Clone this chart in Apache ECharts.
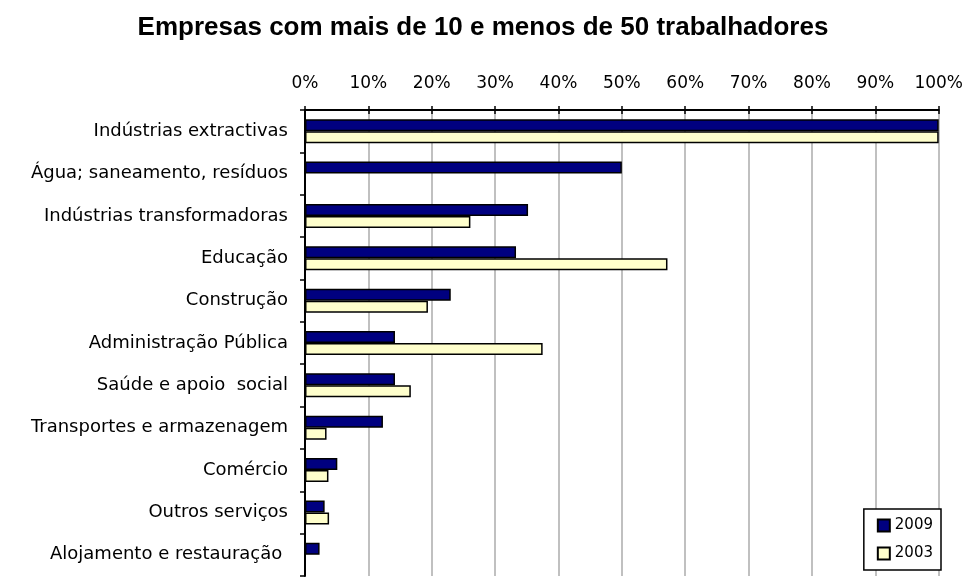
<!DOCTYPE html>
<html>
<head>
<meta charset="utf-8">
<title>Empresas com mais de 10 e menos de 50 trabalhadores</title>
<script src="https://cdn.jsdelivr.net/npm/echarts@6/dist/echarts.min.js"></script>
<style>
  html, body { margin: 0; padding: 0; background: #fff; }
  #main { width: 966px; height: 577px; }
</style>
</head>
<body>
<div id="main"></div>
<script>
// categorias (de cima para baixo)
var categories = [
  'Indústrias extractivas',
  'Água; saneamento, resíduos',
  'Indústrias transformadoras',
  'Educação',
  'Construção',
  'Administração Pública',
  'Saúde e apoio  social',
  'Transportes e armazenagem',
  'Comércio',
  'Outros serviços',
  'Alojamento e restauração '
];
var seriesNames = ['2009', '2003'];
// percentagens
var values2009 = [100, 50, 35.2, 33.3, 23.0, 14.2, 14.2, 12.3, 5.1, 3.1, 2.3];
var values2003 = [100, 0, 26.1, 57.2, 19.4, 37.5, 16.7, 3.4, 3.7, 3.8, 0];
var tickValues = [0, 10, 20, 30, 40, 50, 60, 70, 80, 90, 100];

var labelFont = 'DejaVu Sans';
var chart = echarts.init(document.getElementById('main'));

chart.setOption({
  backgroundColor: '#fff',
  animation: false,
  title: {
    text: 'Empresas com mais de 10 e menos de 50 trabalhadores',
    left: 'center',
    top: 10,
    textStyle: {
      fontFamily: 'Liberation Sans',
      fontWeight: 'bold',
      fontSize: 26,
      color: '#000'
    }
  },
  legend: {
    data: seriesNames,
    orient: 'vertical',
    right: 25,
    bottom: 7,
    icon: 'rect',
    itemWidth: 12,
    itemHeight: 12,
    itemGap: 13,
    padding: [9, 8, 9, 13],
    borderColor: '#000',
    borderWidth: 1.5,
    backgroundColor: '#fff',
    textStyle: { fontFamily: labelFont, fontSize: 15, color: '#000' }
  },
  grid: {
    left: 305,
    right: 25,
    top: 110,
    bottom: 1,
    containLabel: false
  },
  xAxis: [
    {
      type: 'value',
      position: 'top',
      min: tickValues[0],
      max: tickValues[tickValues.length - 1],
      interval: 10,
      axisLine: { show: true, lineStyle: { color: '#000', width: 2 } },
      axisTick: { show: true, length: 4, lineStyle: { color: '#000', width: 1.5 } },
      axisLabel: {
        formatter: '{value}%',
        margin: 18,
        fontFamily: labelFont,
        fontSize: 17,
        color: '#000'
      },
      splitLine: { show: true, lineStyle: { color: '#c0c0c0', width: 2 } }
    },
    {
      // só para as marcas que cruzam o eixo (lado de dentro)
      type: 'value',
      position: 'top',
      min: tickValues[0],
      max: tickValues[tickValues.length - 1],
      interval: 10,
      axisLine: { show: false },
      axisTick: { show: true, inside: true, length: 4, lineStyle: { color: '#000', width: 1.5 } },
      axisLabel: { show: false },
      splitLine: { show: false }
    }
  ],
  yAxis: {
    type: 'category',
    data: categories,
    inverse: true,
    axisLine: { show: true, lineStyle: { color: '#000', width: 2 } },
    axisTick: { show: true, length: 5, lineStyle: { color: '#000', width: 1.5 } },
    axisLabel: {
      margin: 17,
      fontFamily: labelFont,
      fontSize: 18,
      color: '#000'
    },
    splitLine: { show: false }
  },
  series: [
    {
      name: seriesNames[0],
      type: 'bar',
      data: values2009,
      barWidth: 12,
      barGap: '0%',
      itemStyle: { color: '#000080', borderColor: '#000', borderWidth: 1.5 }
    },
    {
      name: seriesNames[1],
      type: 'bar',
      data: values2003,
      barWidth: 12,
      barGap: '0%',
      itemStyle: { color: '#ffffcc', borderColor: '#000', borderWidth: 1.5 }
    }
  ]
});
</script>
</body>
</html>
